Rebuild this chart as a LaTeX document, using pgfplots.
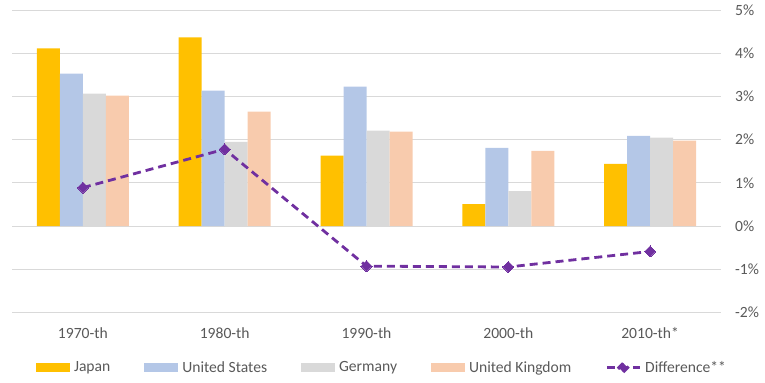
\documentclass[border=0pt]{standalone}
\usepackage{pgfplots}
\pgfplotsset{compat=1.18}
\usepackage{fontspec}
\setmainfont{Carlito}
\definecolor{cJapan}{HTML}{FFC000}
\definecolor{cUS}{HTML}{B4C7E7}
\definecolor{cGer}{HTML}{D9D9D9}
\definecolor{cUK}{HTML}{F8CBAD}
\definecolor{cDiff}{HTML}{7030A0}
\definecolor{cText}{HTML}{595959}
\newcommand\cf{\fontsize{15.6bp}{18bp}\selectfont}
\begin{document}
\begin{tikzpicture}
\path[use as bounding box] (0,0) rectangle (765bp,383bp);
\begin{axis}[
  at={(12bp,70.7bp)}, anchor=south west,
  scale only axis, width=709bp, height=302bp,
  xmin=-0.5, xmax=4.5, ymin=-2, ymax=5,
  xtick={0,1,2,3,4},
  xticklabels={1970-th,1980-th,1990-th,2000-th,2010-th*},
  ytick={-2,-1,0,1,2,3,4,5},
  yticklabel pos=right,
  yticklabel={\pgfmathprintnumber{\tick}\%},
  /pgf/number format/assume math mode=true,
  axis line style={draw=none},
  major tick length=0pt,
  ymajorgrids, grid style={color=cGer, line width=0.9bp},
  tick label style={font=\cf, text=cText},
  yticklabel style={inner sep=0pt, anchor=west, xshift=14bp},
  xticklabel style={inner sep=0pt, anchor=base, yshift=-26bp},
  ybar=0pt, bar width=23bp,
  legend columns=5,
  legend style={at={(0.0339,-0.183)}, anchor=west, draw=none, fill=none,
    inner sep=0pt, outer sep=0pt, font=\cf, text=cText,
    /tikz/every odd column/.style={column sep=4bp},
    /tikz/every even column/.style={column sep=34bp},
    nodes={inner sep=0pt}},
  legend cell align=left,
  area legend,
]
\addplot[fill=cJapan, draw=none, legend image code/.code={\fill[cJapan] (0bp,-4.5bp) rectangle (34bp,4.5bp);}]
  coordinates {(0,4.12) (1,4.37) (2,1.63) (3,0.51) (4,1.44)};
\addlegendentry{Japan}
\addplot[fill=cUS, draw=none, legend image code/.code={\fill[cUS] (0bp,-4.5bp) rectangle (34bp,4.5bp);}]
  coordinates {(0,3.53) (1,3.14) (2,3.23) (3,1.81) (4,2.09)};
\addlegendentry{United States}
\addplot[fill=cGer, draw=none, legend image code/.code={\fill[cGer] (0bp,-4.5bp) rectangle (34bp,4.5bp);}]
  coordinates {(0,3.07) (1,1.95) (2,2.21) (3,0.81) (4,2.05)};
\addlegendentry{Germany}
\addplot[fill=cUK, draw=none, legend image code/.code={\fill[cUK] (0bp,-4.5bp) rectangle (34bp,4.5bp);}]
  coordinates {(0,3.02) (1,2.65) (2,2.19) (3,1.74) (4,1.98)};
\addlegendentry{United Kingdom}
\addplot[sharp plot, cDiff, line width=2.8bp, dash pattern=on 8bp off 5bp,
  mark=square*, mark size=3.9bp, mark options={solid, rotate=45, draw=cDiff, fill=cDiff, line width=0pt},
  legend image code/.code={
    \draw[cDiff, line width=2.8bp, dash pattern=on 8bp off 5bp] (0bp,0bp) -- (33bp,0bp);
    \fill[cDiff] (16.5bp,-4.5bp) -- (21bp,0bp) -- (16.5bp,4.5bp) -- (12bp,0bp) -- cycle;}]
  coordinates {(0,0.89) (1,1.78) (2,-0.93) (3,-0.95) (4,-0.59)};
\addlegendentry{Difference**}
\end{axis}
\end{tikzpicture}
\end{document}
